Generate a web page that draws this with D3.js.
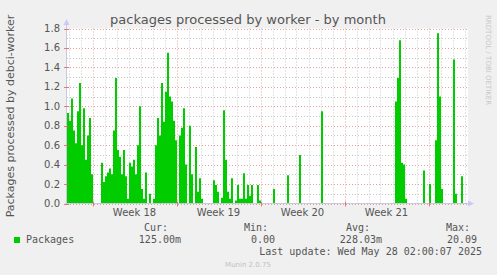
<!DOCTYPE html>
<html><head><meta charset="utf-8">
<script src="https://cdn.jsdelivr.net/npm/d3@7"></script>
<style>
html,body{margin:0;padding:0;background:#f0f0f0;}
svg{display:block;}
</style></head>
<body>
<svg id="c" width="497" height="275"></svg>
<script>
// ---- data (4-hour averages, starting Fri Apr 25 2025 21:00 UTC) ----
const startTime = Date.UTC(2025, 3, 25, 21);
const stepHours = 4;
const packages = [
 0.93,0.85,1.08,0.75,0.62,0.95,1.24,0.60,0.98,0.45,0.70,0.88,0.30,0,0,0,0,
 0.42,0.22,0.28,0.32,0.36,0.30,0.75,1.29,0.55,0.48,0.30,0.55,0.28,0.05,0.42,0.38,0.45,0.30,0.60,1.00,
 0.15,0.05,0.32,0,0.10,0,0.05,0.60,0.88,0.70,1.24,0.84,1.15,1.55,1.10,1.05,0.85,0.65,0,
 0.70,0.78,0.98,0.40,0,0.80,0.30,0,0.58,0.12,0.26,0.05,
 0,0,0,0,0,0.24,0.19,0.12,0,0.06,0.96,0.45,0.12,0.05,0.26,0,0.03,0.19,0.05,0.05,0.31,0.05,0.19,0.08,0.19,0,0,0.19,0.03,
 0,0,0,0,0,0,0.15,0,0,0,0,0,0,0.29,0,0,0,0,0,0.50,
 0,0,0,0,0,0,0,0,0,0,0.95,
 0,0,0,0,0,0,0,0,0,0,0,0,0,0,0,0,0,0,0,0,0,0,0,0,0,0,0,0,0,0,0,0,0,0,0,0,
 1.05,1.29,1.68,0.42,0.40,0.05,0,0,0,0,0,0,0,0,0.34,0,0,0.20,0,0,0.65,1.75,1.10,0.15,
 0,0,0,0,0,1.48,0.10,0,0,0.28,0,0
];
const yTicks = [0.0,0.2,0.4,0.6,0.8,1.0,1.2,1.4,1.6,1.8];
const legendHeaders = ["Cur:","Min:","Avg:","Max:"];
const legendValues = ["125.00m","0.00","228.03m","20.09"];
const seriesName = "Packages";
const titleText = "packages processed by worker - by month";
const yLabel = "Packages processed by debci-worker";
const lastUpdate = "Last update: Wed May 28 02:00:07 2025";
const footer = "Munin 2.0.75";
const sideText = "RRDTOOL / TOBI OETIKER";

// ---- layout ----
const svg = d3.select("#c");
const L = 67, R = 467, T = 28.5, B = 203.5;
const endTime = startTime + 800 * 3600 * 1000;
const x = d3.scaleUtc().domain([new Date(startTime), new Date(endTime)]).range([L, R]);
const y = d3.scaleLinear().domain([0, 1.8]).range([B, T]);

// plot background
svg.append("rect").attr("x", L).attr("y", T).attr("width", R - L + 1).attr("height", B - T).attr("fill", "#fff");

const data = packages.map((v, i) => ({t: new Date(startTime + i * stepHours * 3600e3), v}));
data.push({t: new Date(startTime + packages.length * stepHours * 3600e3), v: 0});

// grid: minor
const g = svg.append("g");
const minorY = d3.range(0, 1.81, 0.1).filter(v => Math.abs(Math.round(v * 10) % 2) === 1);
g.selectAll(".hy").data(minorY).join("line")
  .attr("x1", L).attr("x2", R + 1).attr("y1", d => Math.round(y(d)) + 0.5).attr("y2", d => Math.round(y(d)) + 0.5)
  .attr("stroke", "#c8c8c8").attr("stroke-dasharray", "1,2");
const days = d3.utcDay.range(x.domain()[0], x.domain()[1]).filter(d => d.getUTCDay() !== 1);
g.selectAll(".vd").data(days).join("line")
  .attr("x1", d => Math.round(x(d)) + 0.5).attr("x2", d => Math.round(x(d)) + 0.5).attr("y1", T).attr("y2", B)
  .attr("stroke", "#c8c8c8").attr("stroke-dasharray", "1,2");
// grid: major
g.selectAll(".hY").data(yTicks).join("line")
  .attr("x1", L).attr("x2", R + 1).attr("y1", d => Math.round(y(d)) + 0.5).attr("y2", d => Math.round(y(d)) + 0.5)
  .attr("stroke", "#e6a0a0").attr("stroke-dasharray", "1,2");
const mondays = d3.utcMonday.range(x.domain()[0], x.domain()[1]);
g.selectAll(".vw").data(mondays).join("line")
  .attr("x1", d => Math.round(x(d)) + 0.5).attr("x2", d => Math.round(x(d)) + 0.5).attr("y1", T).attr("y2", B)
  .attr("stroke", "#e6a0a0").attr("stroke-dasharray", "1,2");

// area
const area = d3.area().x(d => x(d.t)).y0(B).y1(d => y(d.v)).curve(d3.curveStepAfter);
svg.append("path").datum(data).attr("d", area).attr("fill", "#00cc00");

// axes
const ax = svg.append("g");
ax.append("line").attr("x1", L - 0.5).attr("x2", L - 0.5).attr("y1", B).attr("y2", 24).attr("stroke", "#c8c8e0");
ax.append("path").attr("d", `M${L - 3.5},25 L${L - 0.5},19 L${L + 2.5},25 Z`).attr("fill", "#c8c8ff");
ax.append("line").attr("x1", L - 2).attr("x2", R + 2).attr("y1", B).attr("y2", B).attr("stroke", "#c8c8e0");
ax.append("path").attr("d", `M${R + 1},${B - 3} L${R + 7},${B} L${R + 1},${B + 3} Z`).attr("fill", "#c8c8ff");
// tick marks on left
ax.selectAll(".tk").data(yTicks).join("line")
  .attr("x1", L - 3).attr("x2", L + 2).attr("y1", d => Math.round(y(d)) + 0.5).attr("y2", d => Math.round(y(d)) + 0.5)
  .attr("stroke", "#e06060").attr("stroke-width", 0.8);
ax.selectAll(".tkw").data(mondays).join("line")
  .attr("x1", d => Math.round(x(d)) + 0.5).attr("x2", d => Math.round(x(d)) + 0.5).attr("y1", B - 2).attr("y2", B + 3)
  .attr("stroke", "#e06060").attr("stroke-width", 0.8);

// y tick labels
svg.selectAll(".yl").data(yTicks).join("text")
  .attr("x", 60).attr("y", d => y(d) + 3.5).attr("text-anchor", "end")
  .attr("font-family", "DejaVu Sans").attr("font-size", 10).attr("fill", "#555")
  .text(d => d.toFixed(1));

// x labels
const weekCenters = mondays.map(m => new Date(+m + 3.5 * 86400e3));
svg.selectAll(".xl").data(weekCenters.filter(d => x(d) < R)).join("text")
  .attr("x", d => x(d)).attr("y", 216).attr("text-anchor", "middle")
  .attr("font-family", "DejaVu Sans").attr("font-size", 10).attr("fill", "#555")
  .text(d => "Week " + (+d3.utcFormat("%V")(d)));

// title
svg.append("text").attr("x", 248).attr("y", 24).attr("text-anchor", "middle")
  .attr("font-family", "DejaVu Sans").attr("font-size", 13).attr("fill", "#555").text(titleText);

// y label
svg.append("text").attr("transform", "translate(14,116) rotate(-90)").attr("text-anchor", "middle")
  .attr("font-family", "DejaVu Sans").attr("font-size", 11).attr("fill", "#555").text(yLabel);

// side text
svg.append("text").attr("transform", "translate(486,15) rotate(90)").attr("text-anchor", "start")
  .attr("font-family", "DejaVu Sans").attr("font-size", 7).attr("fill", "#c8c8c8").text(sideText);

// legend
const mono = "DejaVu Sans Mono";
svg.append("rect").attr("x", 14).attr("y", 237).attr("width", 6).attr("height", 6).attr("fill", "#00cc00");
svg.append("text").attr("x", 26).attr("y", 243).attr("font-family", mono).attr("font-size", 10).attr("fill", "#555").text(seriesName);
const hdrX = [168, 268, 370, 470];
const valX = [181, 275, 382, 477];
svg.selectAll(".lh").data(legendHeaders).join("text")
  .attr("x", (d, i) => hdrX[i]).attr("y", 231).attr("text-anchor", "end")
  .attr("font-family", mono).attr("font-size", 10).attr("fill", "#555").text(d => d);
svg.selectAll(".lv").data(legendValues).join("text")
  .attr("x", (d, i) => valX[i]).attr("y", 243).attr("text-anchor", "end")
  .attr("font-family", mono).attr("font-size", 10).attr("fill", "#555").text(d => d);
svg.append("text").attr("x", 482).attr("y", 255).attr("text-anchor", "end")
  .attr("font-family", mono).attr("font-size", 10).attr("fill", "#555").text(lastUpdate);
svg.append("text").attr("x", 248).attr("y", 267).attr("text-anchor", "middle")
  .attr("font-family", "DejaVu Sans").attr("font-size", 7).attr("fill", "#c0c0c0").text(footer);
</script>
</body></html>
